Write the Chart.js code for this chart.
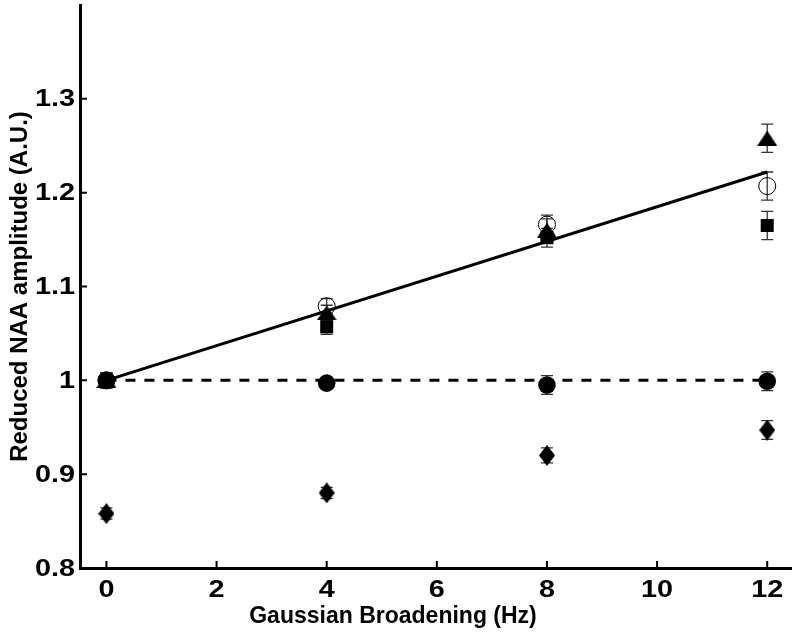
<!DOCTYPE html>
<html lang="en">
<head>
<meta charset="UTF-8">
<title>Reduced NAA amplitude vs Gaussian broadening</title>
<script src="https://cdn.jsdelivr.net/npm/chart.js"></script>
<style>
  html, body { margin: 0; padding: 0; background: #fff; }
  #wrap { width: 792px; height: 634px; }
</style>
</head>
<body>
<div id="wrap"><canvas id="naaChart"></canvas></div>
<script>
// broadening values (Hz)
var xVals = [0, 4, 8, 12];

// series values and their error bars
var triangleY   = [1.000, 1.072, 1.160, 1.258];
var triangleErr = [0.008, 0.008, 0.012, 0.015];
var openCircY   = [1.000, 1.079, 1.166, 1.207];
var openCircErr = [0.008, 0.008, 0.010, 0.015];
var squareY     = [1.000, 1.057, 1.152, 1.165];
var squareErr   = [0.008, 0.008, 0.010, 0.015];
var circleY     = [1.000, 0.997, 0.995, 0.999];
var circleErr   = [0.008, 0.005, 0.010, 0.010];
var diamondY    = [0.858, 0.880, 0.920, 0.947];
var diamondErr  = [0.006, 0.006, 0.008, 0.010];

// fitted line and reference line
var fitX = [0, 12];
var fitY = [1.000, 1.222];
var refY = [1.000, 1.000];

// tick labels
var xTicks = [0, 2, 4, 6, 8, 10, 12];
var yTicks = [0.8, 0.9, 1.0, 1.1, 1.2, 1.3];
var yTickText = ['0.8', '0.9', '1', '1.1', '1.2', '1.3'];

var xTitle = 'Gaussian Broadening (Hz)';
var yTitle = 'Reduced NAA amplitude (A.U.)';

function pts(xs, ys) {
    var out = [];
    for (var i = 0; i < xs.length; i++) out.push({x: xs[i], y: ys[i]});
    return out;
}

// custom marker shapes
function makeTriangle(w, h) {
    var c = document.createElement('canvas');
    c.width = w; c.height = h;
    var g = c.getContext('2d');
    g.fillStyle = '#000';
    g.beginPath();
    g.moveTo(w / 2, 0);
    g.lineTo(w, h);
    g.lineTo(0, h);
    g.closePath();
    g.fill();
    return c;
}
function makeDiamond(w, h) {
    var c = document.createElement('canvas');
    c.width = w; c.height = h;
    var g = c.getContext('2d');
    g.fillStyle = '#000';
    g.beginPath();
    g.moveTo(w / 2, 0);
    g.lineTo(w, h / 2);
    g.lineTo(w / 2, h);
    g.lineTo(0, h / 2);
    g.closePath();
    g.fill();
    return c;
}

var errorBars = {
    id: 'errorBars',
    beforeDatasetsDraw: function(chart) {
        var ctx = chart.ctx, xs = chart.scales.x, ys = chart.scales.y;
        ctx.save();
        ctx.strokeStyle = '#333';
        ctx.lineWidth = 1.3;
        chart.data.datasets.forEach(function(ds) {
            if (!ds.err) return;
            ds.data.forEach(function(p, i) {
                var px = xs.getPixelForValue(p.x);
                var top = ys.getPixelForValue(p.y + ds.err[i]);
                var bot = ys.getPixelForValue(p.y - ds.err[i]);
                ctx.beginPath();
                ctx.moveTo(px, top); ctx.lineTo(px, bot);
                ctx.moveTo(px - 6, top); ctx.lineTo(px + 6, top);
                ctx.moveTo(px - 6, bot); ctx.lineTo(px + 6, bot);
                ctx.stroke();
            });
        });
        ctx.restore();
    }
};

// inward tick marks, wide tick labels (the original figure was stretched sideways), x title
var axisDeco = {
    id: 'axisDeco',
    afterDraw: function(chart) {
        var ctx = chart.ctx, a = chart.chartArea;
        var xs = chart.scales.x, ys = chart.scales.y;
        ctx.save();
        ctx.strokeStyle = '#000';
        ctx.lineWidth = 2;
        ctx.beginPath();
        xTicks.forEach(function(v) {
            var px = xs.getPixelForValue(v);
            ctx.moveTo(px, a.bottom); ctx.lineTo(px, a.bottom - 7);
        });
        yTicks.forEach(function(v) {
            var py = ys.getPixelForValue(v);
            ctx.moveTo(a.left, py); ctx.lineTo(a.left + 7, py);
        });
        ctx.stroke();

        ctx.fillStyle = '#000';
        ctx.font = 'bold 24px "Liberation Sans", Arial, sans-serif';
        ctx.textBaseline = 'middle';
        var sx = 1.2;
        ctx.textAlign = 'right';
        yTicks.forEach(function(v, i) {
            ctx.save();
            ctx.translate(a.left - 5, ys.getPixelForValue(v) + 1);
            ctx.scale(sx, 1);
            ctx.fillText(yTickText[i], 0, 0);
            ctx.restore();
        });
        ctx.textAlign = 'center';
        xTicks.forEach(function(v) {
            ctx.save();
            ctx.translate(xs.getPixelForValue(v), a.bottom + 22);
            ctx.scale(sx, 1);
            ctx.fillText(String(v), 0, 0);
            ctx.restore();
        });

        ctx.font = 'bold 23px "Liberation Sans", Arial, sans-serif';
        ctx.fillText(xTitle, 393, a.bottom + 49);
        ctx.restore();
    }
};

var ctx = document.getElementById('naaChart').getContext('2d');
new Chart(ctx, {
    type: 'scatter',
    data: {
        datasets: [
            {
                type: 'line', data: pts(fitX, fitY),
                borderColor: '#000', borderWidth: 3, pointRadius: 0, fill: false, order: 10
            },
            {
                type: 'line', data: pts(fitX, refY),
                borderColor: '#000', borderWidth: 3, borderDash: [10, 9], pointRadius: 0, fill: false, order: 11
            },
            {
                data: pts(xVals, openCircY), err: openCircErr,
                pointStyle: 'circle', pointRadius: 8.5,
                backgroundColor: 'rgba(0,0,0,0)', borderColor: '#000', borderWidth: 1, order: 5
            },
            {
                data: pts(xVals, squareY), err: squareErr,
                pointStyle: 'rect', pointRadius: 9.2,
                backgroundColor: '#000', borderColor: '#000', borderWidth: 0, order: 4
            },
            {
                data: pts(xVals, triangleY), err: triangleErr,
                pointStyle: makeTriangle(20, 15),
                backgroundColor: '#000', borderColor: '#000', order: 3
            },
            {
                data: pts(xVals, diamondY), err: diamondErr,
                pointStyle: makeDiamond(16, 21),
                backgroundColor: '#000', borderColor: '#000', order: 2
            },
            {
                data: pts(xVals, circleY), err: circleErr,
                pointStyle: 'circle', pointRadius: 8.8,
                backgroundColor: '#000', borderColor: '#000', borderWidth: 0, order: 1
            }
        ]
    },
    options: {
        responsive: true,
        maintainAspectRatio: false,
        animation: false,
        layout: { autoPadding: false, padding: { top: 5, right: 0, left: 0, bottom: 0 } },
        plugins: {
            legend: { display: false },
            tooltip: { enabled: false }
        },
        scales: {
            x: {
                type: 'linear',
                min: -0.48,
                max: 12.45,
                afterBuildTicks: function(scale) {
                    scale.ticks = xTicks.map(function(v) { return {value: v}; });
                },
                afterFit: function(scale) {
                    scale.height = 66;
                    scale.paddingLeft = 0;
                    scale.paddingRight = 0;
                },
                grid: { display: false, drawTicks: false },
                border: { display: true, color: '#000', width: 3 },
                ticks: { display: false },
                title: { display: false }
            },
            y: {
                type: 'linear',
                min: 0.8,
                max: 1.4,
                afterBuildTicks: function(scale) {
                    scale.ticks = yTicks.map(function(v) { return {value: v}; });
                },
                afterFit: function(scale) {
                    scale.width = 80;
                    scale.paddingTop = 0;
                    scale.paddingBottom = 0;
                },
                grid: { display: false, drawTicks: false },
                border: { display: true, color: '#000', width: 3 },
                ticks: { display: false },
                title: { display: true, text: yTitle, color: '#000',
                    font: {family: '"Liberation Sans", Arial, sans-serif', weight: 'bold', size: 24},
                    padding: { top: 6, bottom: 0 } }
            }
        }
    },
    plugins: [errorBars, axisDeco]
});
</script>
</body>
</html>
